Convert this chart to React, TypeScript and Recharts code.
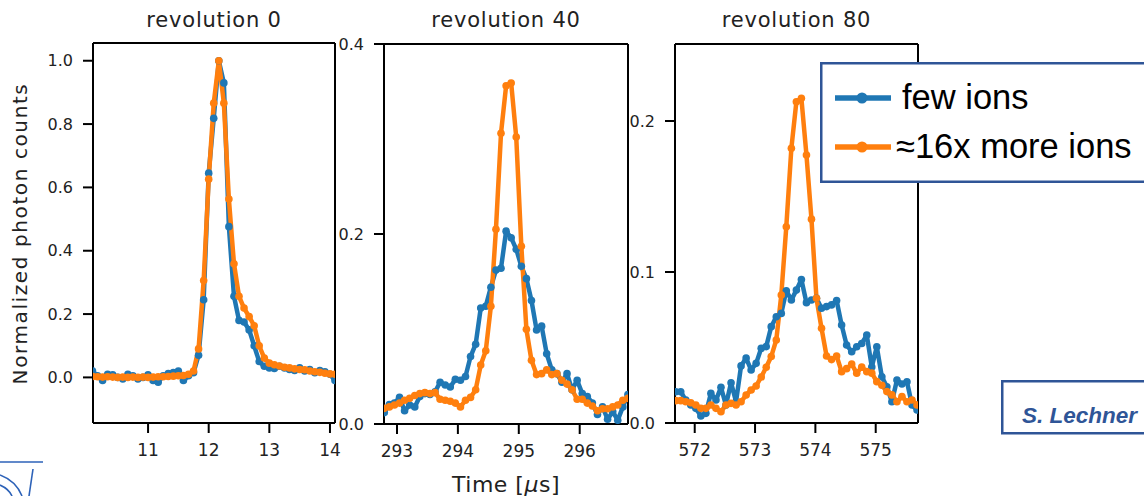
import React from 'react'
import { LineChart, Line, XAxis, YAxis, ReferenceLine } from 'recharts'

const BLUE = '#1f77b4'
const ORANGE = '#ff7f0e'
const NAVY = '#2f5597'
const INK = '#222'

const seriesNames = ['few ions', '≈16x more ions']
const titles = ['revolution 0', 'revolution 40', 'revolution 80']

// revolution 0 (time in µs, normalized photon counts)
const time0 = [
  10.083, 10.167, 10.25, 10.333, 10.417, 10.5, 10.583, 10.667, 10.75, 10.833,
  10.917, 11.0, 11.083, 11.167, 11.25, 11.333, 11.417, 11.5, 11.583, 11.667,
  11.75, 11.833, 11.917, 12.0, 12.083, 12.167, 12.25, 12.333, 12.417, 12.5,
  12.583, 12.667, 12.75, 12.833, 12.917, 13.0, 13.083, 13.167, 13.25, 13.333,
  13.417, 13.5, 13.583, 13.667, 13.75, 13.833, 13.917, 14.0, 14.083,
]
const few0 = [
  0.02, 0.005, -0.01, 0.01, 0.008, 0.0, -0.005, 0.01, 0.005, -0.005,
  0.0, 0.008, -0.01, -0.015, 0.005, 0.012, 0.015, 0.02, -0.01, 0.005,
  0.015, 0.07, 0.245, 0.645, 0.818, 1.0, 0.93, 0.476, 0.256, 0.18,
  0.175, 0.15, 0.1, 0.05, 0.035, 0.03, 0.028, 0.035, 0.03, 0.025,
  0.022, 0.03, 0.02, 0.025, 0.015, 0.022, 0.018, 0.01, -0.01,
]
const more0 = [
  0.003, 0.002, 0.001, 0.002, 0.001, 0.0, 0.001, 0.0, 0.001, 0.0,
  0.001, 0.0, 0.001, 0.002, 0.002, 0.003, 0.004, 0.005, 0.006, 0.01,
  0.02, 0.09, 0.306, 0.626, 0.866, 1.0, 0.866, 0.563, 0.359, 0.256,
  0.219, 0.192, 0.163, 0.1, 0.061, 0.045, 0.04, 0.036, 0.032, 0.03,
  0.027, 0.025, 0.024, 0.02, 0.018, 0.016, 0.013, 0.011, 0.01,
]

// revolution 40
const time40 = [
  292.792, 292.875, 292.958, 293.042, 293.125, 293.208, 293.292, 293.375, 293.458, 293.542,
  293.625, 293.708, 293.792, 293.875, 293.958, 294.042, 294.125, 294.208, 294.292, 294.375,
  294.458, 294.542, 294.625, 294.708, 294.792, 294.875, 294.958, 295.042, 295.125, 295.208,
  295.292, 295.375, 295.458, 295.542, 295.625, 295.708, 295.792, 295.875, 295.958, 296.042,
  296.125, 296.208, 296.292, 296.375, 296.458, 296.542, 296.625, 296.708, 296.792,
]
const few40 = [
  0.012, 0.0205, 0.022, 0.028, 0.014, 0.02, 0.018, 0.029, 0.032, 0.031,
  0.034, 0.044, 0.041, 0.039, 0.047, 0.046, 0.05, 0.071, 0.084, 0.122,
  0.124, 0.144, 0.162, 0.164, 0.203, 0.196, 0.184, 0.166, 0.153, 0.13,
  0.099, 0.103, 0.074, 0.057, 0.053, 0.044, 0.053, 0.036, 0.046, 0.032,
  0.029, 0.022, 0.01, 0.018, 0.005, 0.013, 0.004, 0.018, 0.031,
]
const more40 = [
  0.0165, 0.018, 0.02, 0.022, 0.025, 0.027, 0.03, 0.032, 0.033, 0.032,
  0.033, 0.026, 0.025, 0.024, 0.022, 0.018, 0.025, 0.028, 0.036, 0.062,
  0.077, 0.124, 0.205, 0.306, 0.356, 0.359, 0.302, 0.187, 0.0997, 0.067,
  0.052, 0.053, 0.057, 0.052, 0.053, 0.046, 0.042, 0.036, 0.026, 0.026,
  0.022, 0.019, 0.014, 0.016, 0.016, 0.018, 0.02, 0.025, 0.027,
]

// revolution 80
const time80 = [
  571.685, 571.768, 571.852, 571.935, 572.018, 572.102, 572.185, 572.268, 572.352, 572.435,
  572.518, 572.602, 572.685, 572.768, 572.852, 572.935, 573.018, 573.102, 573.185, 573.268,
  573.352, 573.435, 573.518, 573.602, 573.685, 573.768, 573.852, 573.935, 574.018, 574.102,
  574.185, 574.268, 574.352, 574.435, 574.518, 574.602, 574.685, 574.768, 574.852, 574.935,
  575.018, 575.102, 575.185, 575.268, 575.352, 575.435, 575.518, 575.602, 575.685, 575.768,
]
const few80 = [
  0.0207, 0.0207, 0.0152, 0.0119, 0.0097, 0.0046, 0.0064, 0.0196, 0.0152, 0.0236,
  0.0119, 0.0267, 0.0141, 0.0378, 0.043, 0.0351, 0.0395, 0.0495, 0.0506, 0.0638,
  0.0704, 0.0726, 0.0876, 0.0815, 0.088, 0.095, 0.0797, 0.0815, 0.0826, 0.076,
  0.0771, 0.0782, 0.0811, 0.0649, 0.0517, 0.0472, 0.0505, 0.0527, 0.0582, 0.0371,
  0.0505, 0.0306, 0.024, 0.0141, 0.0284, 0.0258, 0.0273, 0.0119, 0.0086, 0.0042,
]
const more80 = [
  0.0148, 0.0148, 0.0141, 0.0134, 0.0119, 0.0097, 0.0097, 0.0119, 0.0097, 0.0075,
  0.0119, 0.013, 0.0119, 0.0141, 0.0185, 0.0219, 0.0245, 0.0305, 0.0369, 0.044,
  0.055, 0.0848, 0.13, 0.182, 0.2128, 0.215, 0.1775, 0.135, 0.0826, 0.0627,
  0.0444, 0.042, 0.0444, 0.034, 0.036, 0.039, 0.033, 0.037, 0.034, 0.033,
  0.0274, 0.025, 0.0208, 0.0186, 0.0141, 0.0175, 0.0141, 0.0152, 0.0119, 0.0086,
]

const xTicks0 = [11, 12, 13, 14]
const xTicks40 = [293, 294, 295, 296]
const xTicks80 = [572, 573, 574, 575]
const yTicks0 = [0, 0.2, 0.4, 0.6, 0.8, 1.0]
const yTicks40 = [0, 0.2, 0.4]
const yTicks80 = [0, 0.1, 0.2]

const panels = [
  { time: time0, few: few0, more: more0, xDomain: [10.092, 14.083], yDomain: [-0.144, 1.056], xTicks: xTicks0, yTicks: yTicks0, left: 93, top: 43, width: 242, height: 380 },
  { time: time40, few: few40, more: more40, xDomain: [292.787, 296.793], yDomain: [0, 0.4], xTicks: xTicks40, yTicks: yTicks40, left: 384, top: 44, width: 244, height: 380 },
  { time: time80, few: few80, more: more80, xDomain: [571.673, 575.701], yDomain: [0, 0.251], xTicks: xTicks80, yTicks: yTicks80, left: 675, top: 44, width: 243, height: 379 },
]

const spine = { stroke: '#000', strokeWidth: 2 }
const tickFont = { fill: INK, fontSize: 16, fontFamily: 'DejaVu Sans' }
const xTickFont = { fill: INK, fontSize: 17, fontFamily: 'DejaVu Sans' }

function Panel(p: any) {
  const data = p.time.map((t: number, i: number) => ({ t, few: p.few[i], more: p.more[i] }))
  const YW = 60, XH = 45, PAD = 10
  return (
    <div style={{ position: 'absolute', left: p.left - YW, top: p.top - PAD }}>
      <LineChart width={YW + p.width + PAD} height={PAD + p.height + XH} data={data}
        margin={{ top: PAD, right: PAD, bottom: 0, left: 0 }}>
        <XAxis xAxisId="b" type="number" dataKey="t" domain={p.xDomain} allowDataOverflow
          ticks={p.xTicks} interval={0} height={XH} tickSize={10} tickMargin={11}
          axisLine={spine} tickLine={spine} tick={xTickFont} />
        <YAxis yAxisId="l" type="number" domain={p.yDomain} allowDataOverflow
          ticks={p.yTicks} interval={0} width={YW} tickSize={10} tickMargin={10}
          axisLine={spine} tickLine={spine} tick={tickFont}
          tickFormatter={(v: number) => v.toFixed(1)} />
        <Line xAxisId="b" yAxisId="l" type="linear" dataKey="few" stroke={BLUE} strokeWidth={4.5}
          strokeLinejoin="round" dot={{ r: 3.8, fill: BLUE, stroke: BLUE, strokeWidth: 0 }}
          activeDot={false} isAnimationActive={false} />
        <Line xAxisId="b" yAxisId="l" type="linear" dataKey="more" stroke={ORANGE} strokeWidth={4.5}
          strokeLinejoin="round" dot={{ r: 3.8, fill: ORANGE, stroke: ORANGE, strokeWidth: 0 }}
          activeDot={false} isAnimationActive={false} />
        {/* top and right spines */}
        <ReferenceLine xAxisId="b" yAxisId="l" y={p.yDomain[1]} stroke="#000" strokeWidth={2} />
        <ReferenceLine xAxisId="b" yAxisId="l" x={p.xDomain[1]} stroke="#000" strokeWidth={2} />
      </LineChart>
    </div>
  )
}

export default function App() {
  const legendColors = [BLUE, ORANGE]
  return (
    <div style={{ position: 'absolute', left: 0, top: 0, width: 1144, height: 496, overflow: 'hidden', background: '#fff' }}>
      <svg width={1144} height={496} style={{ position: 'absolute', left: 0, top: 0 }}>
        {panels.map((p, i) => (
          <text key={i} x={p.left + p.width / 2} y={26.5} textAnchor="middle"
            fontFamily="DejaVu Sans" fontSize={21} letterSpacing={0.8} fill={INK}>{titles[i]}</text>
        ))}
        <text transform="translate(26.5,233.5) rotate(-90)" textAnchor="middle"
          fontFamily="DejaVu Sans" fontSize={20} letterSpacing={1.6} fill={INK}>Normalized photon counts</text>
        <text x={506} y={491.5} textAnchor="middle" fontFamily="DejaVu Sans" fontSize={22} letterSpacing={0.5} fill={INK}>
          Time [<tspan fontStyle="italic">μ</tspan>s]
        </text>
        {/* logo fragment, bottom left */}
        <g stroke="#2d62b8" strokeWidth={1.6} fill="none">
          <line x1={0} y1={462} x2={43} y2={462} />
          <path d="M 0 475 Q 16 481 22 496" />
          <path d="M 0 485 Q 9 489 12 496" />
          <path d="M 33 469 L 29 496" />
        </g>
      </svg>

      {panels.map((p, i) => <Panel key={i} {...p} />)}

      {/* legend */}
      <svg width={330} height={121} style={{ position: 'absolute', left: 820, top: 62 }}>
        <rect x={1.25} y={1.25} width={340} height={118.5} fill="#fff" stroke={NAVY} strokeWidth={2.5} />
        {seriesNames.map((name, i) => {
          const y = i === 0 ? 36 : 85
          return (
            <g key={name}>
              <line x1={15} y1={y} x2={71} y2={y} stroke={legendColors[i]} strokeWidth={5.5} />
              <circle cx={42} cy={y} r={5.5} fill={legendColors[i]} />
              <text x={i === 0 ? 82 : 76} y={i === 0 ? 46.5 : 95.5} fontFamily="Liberation Sans"
                fontSize={34.5} fill="#000">{name}</text>
            </g>
          )
        })}
      </svg>

      {/* author box */}
      <svg width={143} height={55} style={{ position: 'absolute', left: 1001, top: 380 }}>
        <rect x={1.25} y={1.25} width={200} height={52} fill="#fff" stroke={NAVY} strokeWidth={2.5} />
        <text x={21} y={43} fontFamily="Liberation Sans" fontWeight="bold" fontStyle="italic"
          fontSize={22.5} fill={NAVY}>S. Lechner</text>
      </svg>
    </div>
  )
}
